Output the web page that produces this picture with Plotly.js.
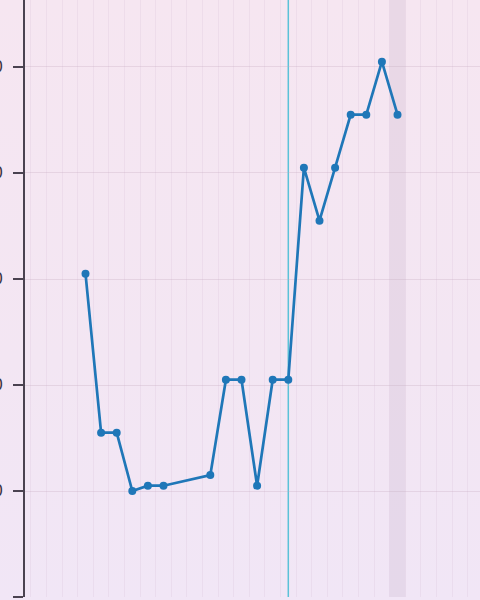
<!DOCTYPE html>
<html>
<head>
<meta charset="utf-8">
<script src="https://cdn.plot.ly/plotly-3.0.1.min.js"></script>
<style>
html,body{margin:0;padding:0;width:480px;height:600px;overflow:hidden;
background:linear-gradient(to bottom,#f6e6f1 0%,#f3e6f3 60%,#f1e6f6 100%);}
#chart{position:absolute;left:-40px;top:0;width:560px;height:600px;}
</style>
</head>
<body>
<div id="chart"></div>
<script>
// Data
const days = [1, 2, 3, 4, 5, 6, 9, 10, 11, 12, 13, 14, 15, 16, 17, 18, 19, 20, 21];
const values = [61, 31, 31, 20, 21, 21, 23, 41, 41, 21, 41, 41, 81, 71, 81, 91, 91, 101, 91];
const yTickVals = [0, 20, 40, 60, 80, 100];
const yTickText = ['0', '20', '40', '60', '80', '100'];
const markerDay = 14;        // vertical reference line
const highlightDay = 21;     // shaded band

const trace = {
  x: days, y: values, type: 'scatter', mode: 'lines+markers',
  line: {color: '#1f77b8', width: 2.7},
  marker: {color: '#1f77b8', size: 8},
  hoverinfo: 'skip'
};

const layout = {
  width: 560, height: 600,
  margin: {l: 65, r: 20, t: 0, b: 3},
  paper_bgcolor: 'rgba(0,0,0,0)',
  plot_bgcolor: 'rgba(0,0,0,0)',
  showlegend: false,
  xaxis: {
    type: 'linear', range: [-2.878, 27.57],
    tick0: 0.5, dtick: 1,
    showgrid: true, gridcolor: 'rgba(205,175,205,0.18)', gridwidth: 1,
    showticklabels: false, ticks: '', showline: false, zeroline: false
  },
  yaxis: {
    range: [0, 112.64],
    tickvals: yTickVals, ticktext: yTickText,
    showgrid: true, gridcolor: 'rgba(195,170,190,0.30)', gridwidth: 1,
    showline: true, linecolor: '#4a4250', linewidth: 2,
    ticks: 'outside', ticklen: 10, tickwidth: 2, tickcolor: '#4a4250',
    ticklabelstandoff: 7,
    tickfont: {family: 'DejaVu Sans', size: 15, color: '#3a3440'},
    zeroline: false
  },
  shapes: [
    {type: 'rect', xref: 'x', yref: 'paper', x0: highlightDay - 0.5, x1: highlightDay + 0.5, y0: 0, y1: 1,
     fillcolor: 'rgba(185,160,190,0.20)', line: {width: 0}, layer: 'below'},
    {type: 'line', xref: 'x', yref: 'paper', x0: markerDay, x1: markerDay, y0: 0, y1: 1,
     line: {color: '#5bc2d8', width: 1.5}, layer: 'below'}
  ]
};

Plotly.newPlot('chart', [trace], layout, {displayModeBar: false, staticPlot: true});
</script>
</body>
</html>
